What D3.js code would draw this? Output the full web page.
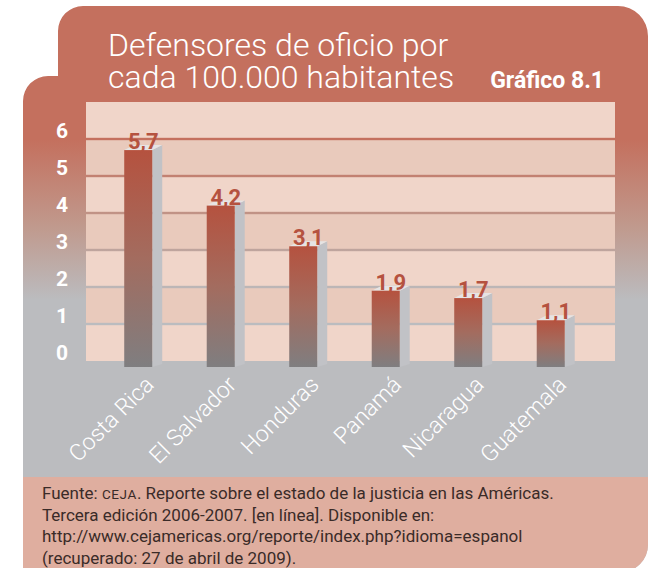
<!DOCTYPE html>
<html>
<head>
<meta charset="utf-8">
<script src="https://cdn.jsdelivr.net/npm/d3@7"></script>
<style>
  html, body { margin: 0; padding: 0; background: #fff; }
  svg { display: block; }
</style>
</head>
<body>
<svg id="chart"></svg>
<script>
// data
const categories = ['Costa Rica', 'El Salvador', 'Honduras', 'Panamá', 'Nicaragua', 'Guatemala'];
const values = [5.7, 4.2, 3.1, 1.9, 1.7, 1.1];
const valueLabels = ['5,7', '4,2', '3,1', '1,9', '1,7', '1,1'];
const yTicks = [0, 1, 2, 3, 4, 5, 6];
const titleLines = ['Defensores de oficio por', 'cada 100.000 habitantes'];
const chartTag = 'Gráfico 8.1';
const footerLines = [
    ['Fuente: ', 'CEJA', '. Reporte sobre el estado de la justicia en las Américas.'],
    ['Tercera edición 2006-2007. [en línea]. Disponible en:'],
    ['http://www.cejamericas.org/reporte/index.php?idioma=espanol'],
    ['(recuperado: 27 de abril de 2009).']
];

let graphicopt = {
    width: 658,
    height: 568,
    plot: {left: 86, right: 615, top: 102, bottom: 361},
    barW: 28,
    depth: 10,
    barBottom: 367,
    footerTop: 477,
    salmon: '#c4705e',
    gray: '#b7b8bc',
    footer: '#dfae9f',
    barTop: '#b5523f',
    barBase: '#7f7e80'
};

const svg = d3.select('#chart')
    .attr('width', graphicopt.width)
    .attr('height', graphicopt.height);

const defs = svg.append('defs');

let bgGrad = defs.append('linearGradient')
    .attr('id', 'bgGrad')
    .attr('gradientUnits', 'userSpaceOnUse')
    .attr('x1', 0).attr('x2', 0).attr('y1', 140).attr('y2', 300);
bgGrad.append('stop').attr('offset', 0).attr('stop-color', graphicopt.salmon);
bgGrad.append('stop').attr('offset', 0.55).attr('stop-color', '#c09a8e');
bgGrad.append('stop').attr('offset', 1).attr('stop-color', '#bbbcbf');

let barGrad = defs.append('linearGradient')
    .attr('id', 'barGrad')
    .attr('x1', 0).attr('x2', 0).attr('y1', 0).attr('y2', 1);
barGrad.append('stop').attr('offset', 0).attr('stop-color', graphicopt.barTop);
barGrad.append('stop').attr('offset', 0.5).attr('stop-color', '#a36c5f');
barGrad.append('stop').attr('offset', 1).attr('stop-color', graphicopt.barBase);

// outline of the card: upper panel + left tab + rounded bottom right
const shapePath = 'M23,580 L23,101 A25,25 0 0 1 48,76 L58,76 L58,31 A25,25 0 0 1 83,6 ' +
    'L618,6 A30,30 0 0 1 648,36 L648,545 A27,27 0 0 1 621,572 L23,572 Z';

defs.append('clipPath').attr('id', 'cardClip')
    .append('path').attr('d', shapePath);

const card = svg.append('g').attr('clip-path', 'url(#cardClip)');
card.append('rect')
    .attr('x', 0).attr('y', 0)
    .attr('width', graphicopt.width).attr('height', graphicopt.height)
    .attr('fill', 'url(#bgGrad)');
card.append('rect')
    .attr('x', 0).attr('y', graphicopt.footerTop)
    .attr('width', graphicopt.width).attr('height', graphicopt.height - graphicopt.footerTop)
    .attr('fill', graphicopt.footer);

// scales
const x = d3.scaleBand()
    .domain(categories)
    .range([97, 592])
    .paddingInner(0.66)
    .paddingOuter(0.33);
const y = d3.scaleLinear()
    .domain([0, 7])
    .range([graphicopt.plot.bottom, graphicopt.plot.top]);

// plot bands, the gaps between them act as gridlines
const bandIdx = d3.range(7);
svg.append('g').attr('class', 'bands')
    .selectAll('rect')
    .data(bandIdx)
    .enter().append('rect')
    .attr('x', graphicopt.plot.left)
    .attr('width', graphicopt.plot.right - graphicopt.plot.left)
    .attr('y', d => y(d + 1) + (d === 6 ? 0 : 1.2))
    .attr('height', d => (y(d) - (d === 0 ? 0 : 1.2)) - (y(d + 1) + (d === 6 ? 0 : 1.2)))
    .attr('fill', d => d % 2 === 0 ? '#f0d5c9' : '#e9cabc');

// y axis labels
svg.append('g').attr('class', 'y axis')
    .selectAll('text')
    .data(yTicks)
    .enter().append('text')
    .attr('x', 62)
    .attr('y', d => y(d) - 1)
    .attr('text-anchor', 'middle')
    .attr('fill', '#fff')
    .style('font-family', 'Roboto, "Open Sans", sans-serif')
    .style('font-weight', 700)
    .style('font-size', '21px')
    .text(d => d);

// bars with a fake 3d side and top
const data = categories.map((c, i) => ({key: c, value: values[i], label: valueLabels[i]}));
const bar_g = svg.append('g').attr('class', 'bars')
    .selectAll('.bar')
    .data(data, d => d.key)
    .enter().append('g')
    .attr('class', 'bar')
    .attr('transform', d => `translate(${x(d.key)},0)`);

const bw = graphicopt.barW, dp = graphicopt.depth, bb = graphicopt.barBottom;
bar_g.append('polygon')
    .attr('points', d => {
        const t = y(d.value);
        return [[bw, t], [bw + dp, t - 5], [bw + dp, bb - 3], [bw, bb]].join(' ');
    })
    .attr('fill', '#c1c2c6');
bar_g.append('polygon')
    .attr('points', d => {
        const t = y(d.value);
        return [[0, t], [bw, t], [bw + dp, t - 5], [dp, t - 5]].join(' ');
    })
    .attr('fill', '#e6e4e4');
bar_g.append('rect')
    .attr('x', 0)
    .attr('y', d => y(d.value))
    .attr('width', bw)
    .attr('height', d => bb - y(d.value))
    .attr('fill', 'url(#barGrad)');

bar_g.append('text')
    .attr('class', 'label')
    .attr('x', (bw + dp) / 2)
    .attr('y', d => y(d.value) - 1)
    .attr('text-anchor', 'middle')
    .attr('fill', graphicopt.barTop)
    .style('font-family', 'Roboto, "Open Sans", sans-serif')
    .style('font-weight', 700)
    .style('font-size', '22px')
    .text(d => d.label);

// category labels, rotated
svg.append('g').attr('class', 'x axis')
    .selectAll('text')
    .data(categories)
    .enter().append('text')
    .attr('transform', d => `translate(${x(d) + 31},386) rotate(-45)`)
    .attr('text-anchor', 'end')
    .attr('fill', '#fff')
    .style('font-family', 'Roboto, "Open Sans", sans-serif')
    .style('font-weight', 300)
    .style('font-size', '23px')
    .text(d => d);

// title
svg.append('g').attr('class', 'title')
    .selectAll('text')
    .data(titleLines)
    .enter().append('text')
    .attr('x', 108)
    .attr('y', (d, i) => 56 + i * 32)
    .attr('fill', '#fff')
    .style('font-family', 'Roboto, "Open Sans", sans-serif')
    .style('font-weight', 300)
    .style('font-size', '32px')
    .text(d => d);

svg.append('text')
    .attr('x', 604)
    .attr('y', 88)
    .attr('text-anchor', 'end')
    .attr('fill', '#fff')
    .style('font-family', 'Roboto, "Open Sans", sans-serif')
    .style('font-weight', 700)
    .style('font-size', '23px')
    .text(chartTag);

// footer source text
const foot = svg.append('g').attr('class', 'footer')
    .selectAll('text')
    .data(footerLines)
    .enter().append('text')
    .attr('x', 42)
    .attr('y', (d, i) => 499 + i * 21.6)
    .attr('fill', '#3a2b28')
    .style('font-family', 'Roboto, "Open Sans", sans-serif')
    .style('font-size', '17px');
foot.selectAll('tspan')
    .data(d => d)
    .enter().append('tspan')
    .style('font-size', d => d === 'CEJA' ? '13.5px' : null)
    .style('letter-spacing', d => d === 'CEJA' ? '0.6px' : null)
    .text(d => d);
</script>
</body>
</html>
